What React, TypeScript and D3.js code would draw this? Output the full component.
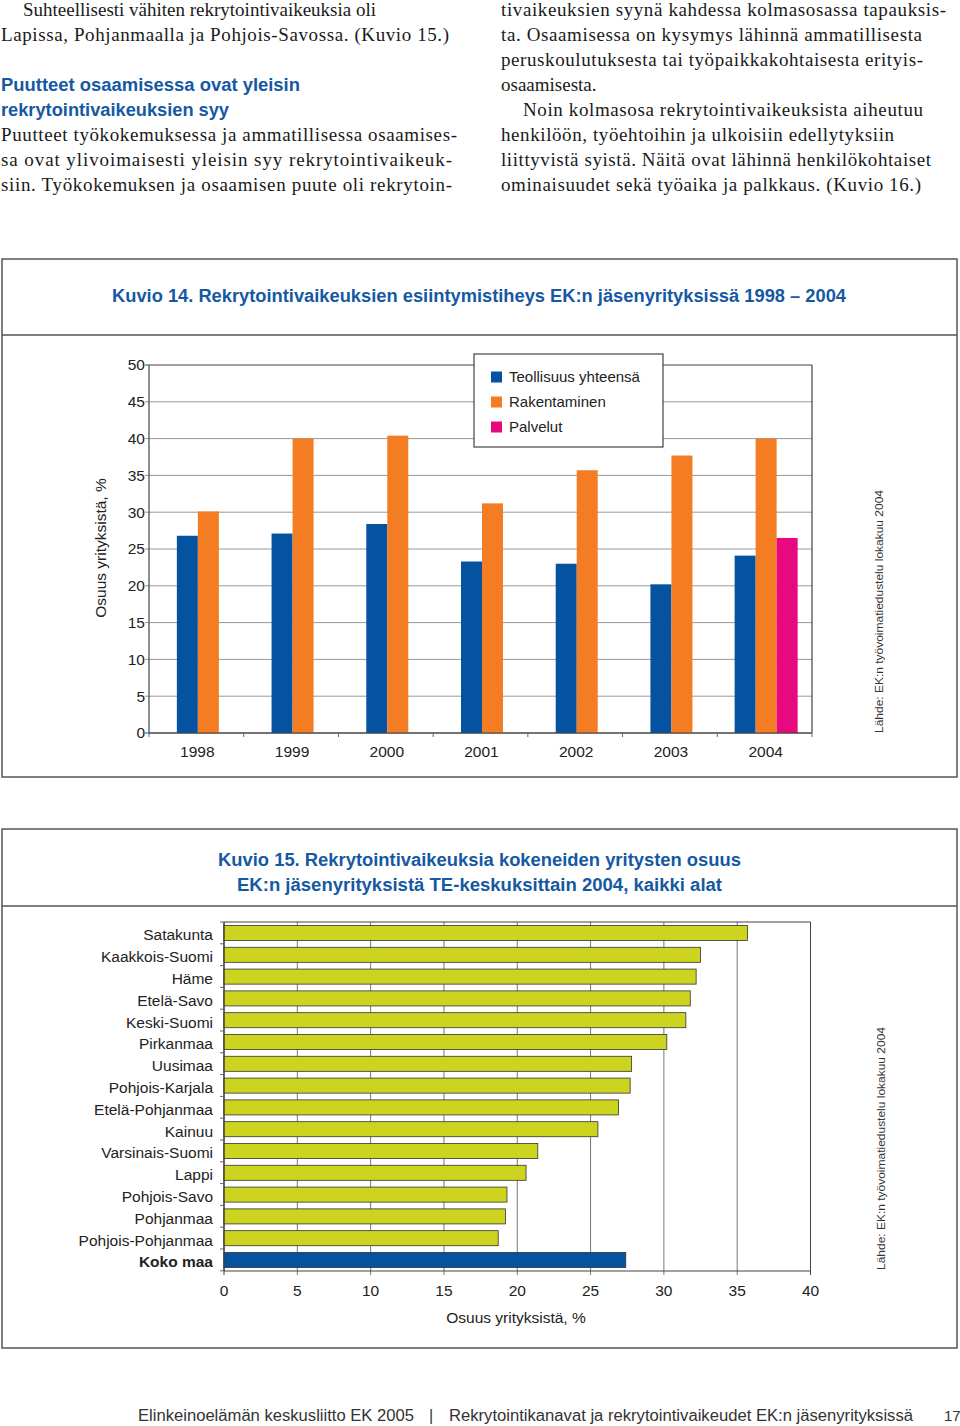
import React from 'react';
import * as d3 from 'd3';

// ---------- Data ----------
const years = ['1998', '1999', '2000', '2001', '2002', '2003', '2004'];
const teollisuus = [26.8, 27.1, 28.4, 23.3, 23.0, 20.2, 24.1];
const rakentaminen = [30.1, 40.0, 40.4, 31.2, 35.7, 37.7, 40.0];
const palvelut: (number | null)[] = [null, null, null, null, null, null, 26.5];
const seriesNames = ['Teollisuus yhteensä', 'Rakentaminen', 'Palvelut'];
const yTicks14 = [0, 5, 10, 15, 20, 25, 30, 35, 40, 45, 50];

const regions = [
  'Satakunta', 'Kaakkois-Suomi', 'Häme', 'Etelä-Savo', 'Keski-Suomi', 'Pirkanmaa',
  'Uusimaa', 'Pohjois-Karjala', 'Etelä-Pohjanmaa', 'Kainuu', 'Varsinais-Suomi',
  'Lappi', 'Pohjois-Savo', 'Pohjanmaa', 'Pohjois-Pohjanmaa', 'Koko maa',
];
const shares = [35.7, 32.5, 32.2, 31.8, 31.5, 30.2, 27.8, 27.7, 26.9, 25.5, 21.4, 20.6, 19.3, 19.2, 18.7, 27.4];
const xTicks15 = [0, 5, 10, 15, 20, 25, 30, 35, 40];

// ---------- Styles ----------
const SANS = 'Liberation Sans, Arial, Helvetica, sans-serif';
const SERIF = 'Liberation Serif, Times New Roman, serif';
const BLUE_TITLE = '#1559a3';
const C_BLUE = '#0552a1';
const C_ORANGE = '#f47d23';
const C_PINK = '#e8097f';
const C_YELLOW = '#cdd41f';
const seriesColors = [C_BLUE, C_ORANGE, C_PINK];

type Line = { t: string; x: number; y: number; w?: number };
const leftText: Line[] = [
  { t: 'Suhteellisesti vähiten rekrytointivaikeuksia oli', x: 23, y: 16 },
  { t: 'Lapissa, Pohjanmaalla ja Pohjois-Savossa. (Kuvio 15.)', x: 1, y: 41, w: 448 },
  { t: 'Puutteet työkokemuksessa ja ammatillisessa osaamises-', x: 1, y: 141, w: 456 },
  { t: 'sa ovat ylivoimaisesti yleisin syy rekrytointivaikeuk-', x: 1, y: 166, w: 451 },
  { t: 'siin. Työkokemuksen ja osaamisen puute oli rekrytoin-', x: 1, y: 191, w: 451 },
];
const rightText: Line[] = [
  { t: 'tivaikeuksien syynä kahdessa kolmasosassa tapauksis-', x: 501, y: 16, w: 445 },
  { t: 'ta. Osaamisessa on kysymys lähinnä ammatillisesta', x: 501, y: 41, w: 421 },
  { t: 'peruskoulutuksesta tai työpaikkakohtaisesta erityis-', x: 501, y: 66, w: 422 },
  { t: 'osaamisesta.', x: 501, y: 91 },
  { t: 'Noin kolmasosa rekrytointivaikeuksista aiheutuu', x: 523, y: 116, w: 400 },
  { t: 'henkilöön, työehtoihin ja ulkoisiin edellytyksiin', x: 501, y: 141, w: 393 },
  { t: 'liittyvistä syistä. Näitä ovat lähinnä henkilökohtaiset', x: 501, y: 166, w: 430 },
  { t: 'ominaisuudet sekä työaika ja palkkaus. (Kuvio 16.)', x: 501, y: 191, w: 420 },
];

function Chart14() {
  const x = d3.scaleBand<string>().domain(years).range([149, 812]).padding(0);
  const y = d3.scaleLinear().domain([0, 50]).range([733, 365]);
  const bw = 21;
  const series = [teollisuus, rakentaminen, palvelut];
  const bars: { x: number; y: number; h: number; c: string; k: string }[] = [];
  years.forEach((yr, i) => {
    const vals = series.map((s, si) => ({ v: s[i], si })).filter((d) => d.v !== null && d.v !== undefined) as { v: number; si: number }[];
    const gw = vals.length * bw;
    const start = (x(yr) as number) + x.bandwidth() / 2 - gw / 2 + 1.5;
    vals.forEach((d, j) => {
      bars.push({ x: start + j * bw, y: y(d.v), h: y(0) - y(d.v), c: seriesColors[d.si], k: yr + d.si });
    });
  });
  return (
    <g>
      <rect x={2} y={259} width={955} height={518} fill="#fff" stroke="#555" strokeWidth={1.5} />
      <line x1={2} x2={957} y1={335} y2={335} stroke="#555" strokeWidth={1.5} />
      <text x={112} y={302} fontFamily={SANS} fontWeight="bold" fontSize={17.5} fill={BLUE_TITLE}
        textLength={734} lengthAdjust="spacingAndGlyphs">
        Kuvio 14. Rekrytointivaikeuksien esiintymistiheys EK:n jäsenyrityksissä 1998 – 2004
      </text>
      {yTicks14.map((t) => (
        <g key={t}>
          <line x1={145} x2={812} y1={y(t)} y2={y(t)} stroke={t === 0 || t === 50 ? '#444' : '#999'} strokeWidth={1} />
          <text x={145} y={y(t)} dy="0.35em" textAnchor="end" fontFamily={SANS} fontSize={15.5} fill="#222">{t}</text>
        </g>
      ))}
      {bars.map((b) => (
        <rect key={b.k} x={b.x} y={b.y} width={bw} height={b.h} fill={b.c} />
      ))}
      <line x1={149} x2={149} y1={365} y2={733} stroke="#444" strokeWidth={1.2} />
      <line x1={812} x2={812} y1={365} y2={733} stroke="#444" strokeWidth={1.2} />
      <line x1={149} x2={812} y1={733} y2={733} stroke="#444" strokeWidth={1.2} />
      {years.map((yr) => (
        <g key={yr}>
          <line x1={(x(yr) as number) + x.bandwidth()} x2={(x(yr) as number) + x.bandwidth()} y1={733} y2={737} stroke="#666" />
          <text x={(x(yr) as number) + x.bandwidth() / 2 + 1} y={757} textAnchor="middle" fontFamily={SANS} fontSize={15.5} fill="#222">{yr}</text>
        </g>
      ))}
      <line x1={149} x2={149} y1={733} y2={737} stroke="#666" />
      <text transform="translate(106,548) rotate(-90)" textAnchor="middle" fontFamily={SANS} fontSize={15.5} fill="#222">
        Osuus yrityksistä, %
      </text>
      <rect x={474} y={354} width={189} height={93} fill="#fff" stroke="#444" strokeWidth={1.2} />
      {seriesNames.map((n, i) => (
        <g key={n}>
          <rect x={491} y={371.5 + i * 25} width={11} height={11} fill={seriesColors[i]} />
          <text x={509} y={377 + i * 25} dy="0.35em" fontFamily={SANS} fontSize={15} fill="#222">{n}</text>
        </g>
      ))}
      <text transform="translate(883,733) rotate(-90)" fontFamily={SANS} fontSize={11.5} fill="#333"
        textLength={243} lengthAdjust="spacingAndGlyphs">
        Lähde: EK:n työvoimatiedustelu lokakuu 2004
      </text>
    </g>
  );
}

function Chart15() {
  const y = d3.scaleBand<string>().domain(regions).range([922, 1271]).paddingInner(0.31).paddingOuter(0.16);
  const x = d3.scaleLinear().domain([0, 40]).range([224, 810.5]);
  const step = y.step();
  return (
    <g>
      <rect x={2} y={829} width={955} height={519} fill="#fff" stroke="#555" strokeWidth={1.5} />
      <line x1={2} x2={957} y1={906} y2={906} stroke="#555" strokeWidth={1.5} />
      <text x={218} y={866} fontFamily={SANS} fontWeight="bold" fontSize={17.5} fill={BLUE_TITLE}
        textLength={523} lengthAdjust="spacingAndGlyphs">
        Kuvio 15. Rekrytointivaikeuksia kokeneiden yritysten osuus
      </text>
      <text x={237} y={891} fontFamily={SANS} fontWeight="bold" fontSize={17.5} fill={BLUE_TITLE}
        textLength={485} lengthAdjust="spacingAndGlyphs">
        EK:n jäsenyrityksistä TE-keskuksittain 2004, kaikki alat
      </text>
      {xTicks15.map((t) => (
        <g key={t}>
          <line x1={x(t)} x2={x(t)} y1={922} y2={1275} stroke={t === 0 || t === 40 ? '#444' : '#777'} strokeWidth={1} />
          <text x={x(t)} y={1296} textAnchor="middle" fontFamily={SANS} fontSize={15.5} fill="#222">{t}</text>
        </g>
      ))}
      <line x1={224} x2={810.5} y1={922} y2={922} stroke="#444" strokeWidth={1.2} />
      <line x1={224} x2={810.5} y1={1271} y2={1271} stroke="#444" strokeWidth={1.2} />
      {d3.range(regions.length + 1).map((i) => (
        <line key={i} x1={220} x2={224} y1={922 + i * step} y2={922 + i * step} stroke="#666" />
      ))}
      {regions.map((r, i) => (
        <g key={r}>
          <rect x={x(0)} y={y(r) as number} width={x(shares[i]) - x(0)} height={y.bandwidth()}
            fill={r === 'Koko maa' ? C_BLUE : C_YELLOW} stroke="#333" strokeWidth={0.8} />
          <text x={213} y={(y(r) as number) + y.bandwidth() / 2 + 2} dy="0.35em" textAnchor="end"
            fontFamily={SANS} fontSize={15.5} fontWeight={r === 'Koko maa' ? 'bold' : 'normal'} fill="#222">{r}</text>
        </g>
      ))}
      <line x1={224} x2={224} y1={922} y2={1271} stroke="#444" strokeWidth={1.2} />
      <text x={516} y={1323} textAnchor="middle" fontFamily={SANS} fontSize={15.5} fill="#222">Osuus yrityksistä, %</text>
      <text transform="translate(885,1270) rotate(-90)" fontFamily={SANS} fontSize={11.5} fill="#333"
        textLength={243} lengthAdjust="spacingAndGlyphs">
        Lähde: EK:n työvoimatiedustelu lokakuu 2004
      </text>
    </g>
  );
}

export default function App() {
  return (
    <svg width={960} height={1426} style={{ position: 'absolute', left: 0, top: 0, background: '#fff' }}>
      <rect x={0} y={0} width={960} height={1426} fill="#fff" />
      {leftText.map((l) => (
        <text key={l.t} x={l.x} y={l.y} fontFamily={SERIF} fontSize={19} fill="#1a1a1a"
          {...(l.w ? { textLength: l.w, lengthAdjust: 'spacing' } : {})}>{l.t}</text>
      ))}
      <text x={1} y={91} fontFamily={SANS} fontWeight="bold" fontSize={18} fill={BLUE_TITLE} textLength={299} lengthAdjust="spacingAndGlyphs">
        Puutteet osaamisessa ovat yleisin
      </text>
      <text x={1} y={116} fontFamily={SANS} fontWeight="bold" fontSize={18} fill={BLUE_TITLE} textLength={228} lengthAdjust="spacingAndGlyphs">
        rekrytointivaikeuksien syy
      </text>
      {rightText.map((l) => (
        <text key={l.t} x={l.x} y={l.y} fontFamily={SERIF} fontSize={19} fill="#1a1a1a"
          {...(l.w ? { textLength: l.w, lengthAdjust: 'spacing' } : {})}>{l.t}</text>
      ))}
      <Chart14 />
      <Chart15 />
      <text x={138} y={1421} fontFamily={SANS} fontSize={16} fill="#333" textLength={276} lengthAdjust="spacingAndGlyphs">
        Elinkeinoelämän keskusliitto EK 2005
      </text>
      <text x={431} y={1421} textAnchor="middle" fontFamily={SANS} fontSize={16} fill="#333">|</text>
      <text x={449} y={1421} fontFamily={SANS} fontSize={16} fill="#333" textLength={464} lengthAdjust="spacingAndGlyphs">
        Rekrytointikanavat ja rekrytointivaikeudet EK:n jäsenyrityksissä
      </text>
      <text x={944} y={1421} fontFamily={SANS} fontSize={15} fill="#333">17</text>
    </svg>
  );
}
